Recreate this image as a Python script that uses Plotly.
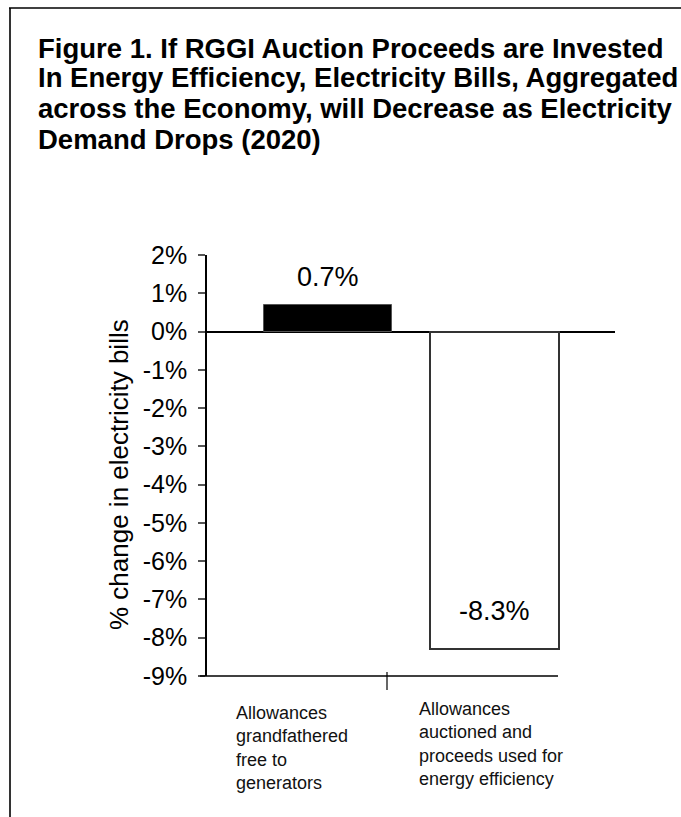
import plotly.graph_objects as go

# ---- data ----
categories = ["Allowances<br>grandfathered<br>free to<br>generators",
              "Allowances<br>auctioned and<br>proceeds used for<br>energy efficiency"]
values = [0.7, -8.3]
tick_vals = list(range(-9, 3))
tick_text = [f"{v}%" for v in tick_vals]
title_lines = ["Figure 1. If RGGI Auction Proceeds are Invested",
               "In Energy Efficiency, Electricity Bills, Aggregated",
               "across the Economy, will Decrease as Electricity",
               "Demand Drops (2020)"]
y_title = "% change in electricity bills"

W, H = 681, 817
def px(x):
    return x / W
def py(y):
    return 1 - y / H

FONT = "Liberation Sans, Arial, sans-serif"

fig = go.Figure()
fig.add_trace(go.Bar(
    x=[0, 1], y=values, width=0.77,
    marker=dict(color=["#000000", "#ffffff"],
                line=dict(color=["#555555", "#333333"], width=[1, 2])),
    hoverinfo="skip",
))

annotations = []
# title lines
title_y = [48, 78, 109, 139]
for line, yy in zip(title_lines, title_y):
    annotations.append(dict(text=f"<b>{line}</b>", xref="paper", yref="paper",
                            x=px(36), y=py(yy), xanchor="left", yanchor="middle",
                            showarrow=False, font=dict(family=FONT, size=27.5, color="#000")))
# value labels
for i, v in enumerate(values):
    annotations.append(dict(text=f"{v:.1f}%", xref="x", yref="y", x=i, y=v,
                            xanchor="center", yanchor="bottom",
                            yshift=11 if v > 0 else 21, showarrow=False,
                            font=dict(family=FONT, size=27, color="#000")))
# category labels
cat_x = [234, 417]
cat_top = [701, 697]
for c, xx, yy in zip(categories, cat_x, cat_top):
    annotations.append(dict(text=c, xref="paper", yref="paper", x=px(xx), y=py(yy),
                            xanchor="left", yanchor="top", align="left", showarrow=False,
                            font=dict(family=FONT, size=18, color="#111")))
# y-axis title
annotations.append(dict(text=y_title, xref="paper", yref="paper", x=px(119), y=py(475),
                        textangle=-90, xanchor="center", yanchor="middle", showarrow=False,
                        font=dict(family=FONT, size=26, color="#000")))

shapes = [
    # frame (left and top)
    dict(type="line", xref="paper", yref="paper", x0=px(10), x1=px(10), y0=py(8), y1=0,
         line=dict(color="#333", width=2)),
    dict(type="line", xref="paper", yref="paper", x0=px(9), x1=1, y0=py(8), y1=py(8),
         line=dict(color="#000", width=1.5)),
    # bottom axis line
    dict(type="line", xref="paper", yref="paper", x0=px(200), x1=px(558), y0=py(676), y1=py(676),
         line=dict(color="#000", width=1.5)),
    # category divider tick
    dict(type="line", xref="paper", yref="paper", x0=px(387), x1=px(387), y0=py(672), y1=py(690),
         line=dict(color="#000", width=1.2)),
]

x_left = 207
x_right = 615
c0, unit = 328, 166.5
fig.update_layout(
    width=W, height=H, margin=dict(l=0, r=0, t=0, b=0, autoexpand=False),
    paper_bgcolor="white", plot_bgcolor="white", showlegend=False,
    annotations=annotations, shapes=shapes, bargap=0,
    xaxis=dict(domain=[px(x_left), px(x_right)],
               range=[(x_left - c0) / unit, 1 + (x_right - (c0 + unit)) / unit],
               showticklabels=False, showgrid=False, zeroline=False, showline=False,
               ticks="", automargin=False),
    yaxis=dict(domain=[py(676), py(255)], range=[-9, 2], tickvals=tick_vals, ticktext=tick_text,
               ticks="outside", ticklen=7, tickcolor="#555", tickwidth=1.5,
               showline=True, linecolor="#000", linewidth=1.5, showgrid=False,
               zeroline=True, zerolinecolor="#000", zerolinewidth=1.5, automargin=False,
               tickfont=dict(family=FONT, size=25, color="#000"), ticklabelstandoff=6),
)
fig.write_html("out.html",
               post_script="document.body.style.margin='0';document.body.style.overflow='hidden';")
